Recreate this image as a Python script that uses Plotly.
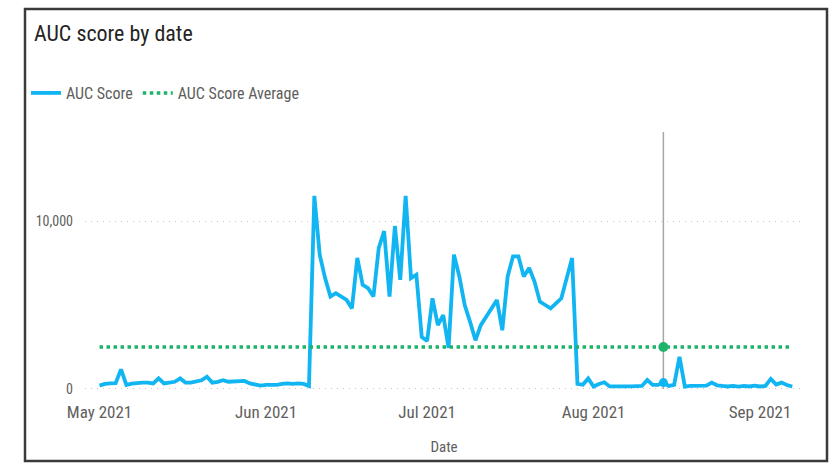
import plotly.graph_objects as go
import pandas as pd

# ---- data ----
dates = pd.date_range("2021-05-01", "2021-09-07", freq="D").strftime("%Y-%m-%d").tolist()

may_jun_low = [200, 300, 340, 350, 1170, 240, 320, 370, 380, 380,
               330, 630, 330, 380, 430, 630, 380, 380, 430, 520,
               730, 380, 430, 520, 430, 430, 480, 480, 330, 240,
               200, 240, 240, 240, 300, 330, 300, 330, 300, 180]
jun_jul_high = [11500, 8000, 6600, 5500, 5700, 5500, 5300, 4800, 7800, 6200,
                6000, 5500, 8400, 9400, 5500, 9700, 6500, 11500, 6600, 6800,
                3100, 2850, 5400, 3800, 4400, 2450, 8000, 6700, 5000, 4000,
                2900, 3800, 4300, 4700, 5300, 3500, 6700, 7900, 7900, 6700,
                7200, 6400, 5200, 5000, 4800, 5100, 5400, 6600, 7800]
jul_sep_low = [300, 250, 630, 150, 300, 400, 150, 140, 140, 150,
               150, 170, 180, 540, 240, 240, 380, 180, 250, 1920,
               140, 180, 180, 200, 200, 380, 220, 180, 150, 180,
               140, 180, 150, 200, 150, 180, 600, 260, 380, 240, 150]
auc_score = may_jun_low + jun_jul_high + jul_sep_low
auc_average = [2500] * len(dates)

hover_date = "2021-08-14"
y_ticks = [0, 10000]
y_tick_labels = ["0", "10,000"]

# ---- styling ----
FONT = "Roboto Condensed, Roboto, sans-serif"
BLUE = "#10B5F2"
GREEN = "#1DB36A"
GRAY_TXT = "#605E5C"

W, H = 833, 465
L, R, T, B = 85, 30, 132, 73
PW, PH = W - L - R, H - T - B


def px(x):
    return (x - L) / PW


def py(y):
    return (H - B - y) / PH


fig = go.Figure()
fig.add_trace(go.Scatter(x=dates, y=auc_score, mode="lines", name="AUC Score",
                         line=dict(color=BLUE, width=3.8)))
fig.add_trace(go.Scatter(x=dates, y=auc_average, mode="lines", name="AUC Score Average",
                         line=dict(color=GREEN, width=3.5, dash="dot")))

hi = dates.index(hover_date)
fig.add_shape(type="line", xref="x", yref="paper", x0=hover_date, x1=hover_date, y0=py(389), y1=1,
              line=dict(color="#A6A6A6", width=1.5), layer="below")
fig.add_trace(go.Scatter(x=[hover_date], y=[auc_score[hi]], mode="markers", showlegend=False,
                         marker=dict(color=BLUE, size=9)))
fig.add_trace(go.Scatter(x=[hover_date], y=[auc_average[hi]], mode="markers", showlegend=False,
                         marker=dict(color=GREEN, size=10)))

# outer border of the visual
fig.add_shape(type="rect", xref="paper", yref="paper", x0=px(25), x1=px(827), y0=py(461), y1=py(9),
              line=dict(color="#3A3A3A", width=2.5))

fig.add_annotation(text="AUC score by date", xref="paper", yref="paper", x=px(32), y=py(33),
                   xanchor="left", yanchor="middle", showarrow=False,
                   font=dict(family=FONT, size=22, color="#252423"))

fig.update_layout(
    width=W, height=H,
    margin=dict(l=L, r=R, t=T, b=B, autoexpand=False),
    paper_bgcolor="white", plot_bgcolor="white",
    font=dict(family=FONT, color=GRAY_TXT),
    showlegend=True,
    legend=dict(orientation="h", x=px(26), y=py(93), xanchor="left", yanchor="middle",
                font=dict(family=FONT, size=16, color=GRAY_TXT), itemwidth=30,
                bgcolor="rgba(0,0,0,0)", tracegroupgap=0),
    xaxis=dict(type="date", range=["2021-04-28 07:00", "2021-09-09 00:00"],
               tick0="2021-05-01", dtick="M1", tickformat="%b %Y",
               showgrid=False, zeroline=False, showline=False, ticks="", automargin=False,
               ticklabelstandoff=8,
               tickfont=dict(family=FONT, size=17, color=GRAY_TXT),
               title=dict(text="Date", font=dict(family=FONT, size=15, color=GRAY_TXT), standoff=20)),
    yaxis=dict(range=[-179, 15298], tickvals=y_ticks, ticktext=y_tick_labels, automargin=False,
               showgrid=True, gridcolor="#C8C6C4", griddash="1px,5px", gridwidth=1.2,
               zeroline=False, showline=False, ticks="", ticklabelstandoff=11,
               tickfont=dict(family=FONT, size=14, color=GRAY_TXT)),
)

fig.write_html("out.html", config={"displayModeBar": False},
               post_script="document.body.style.margin='0';")
